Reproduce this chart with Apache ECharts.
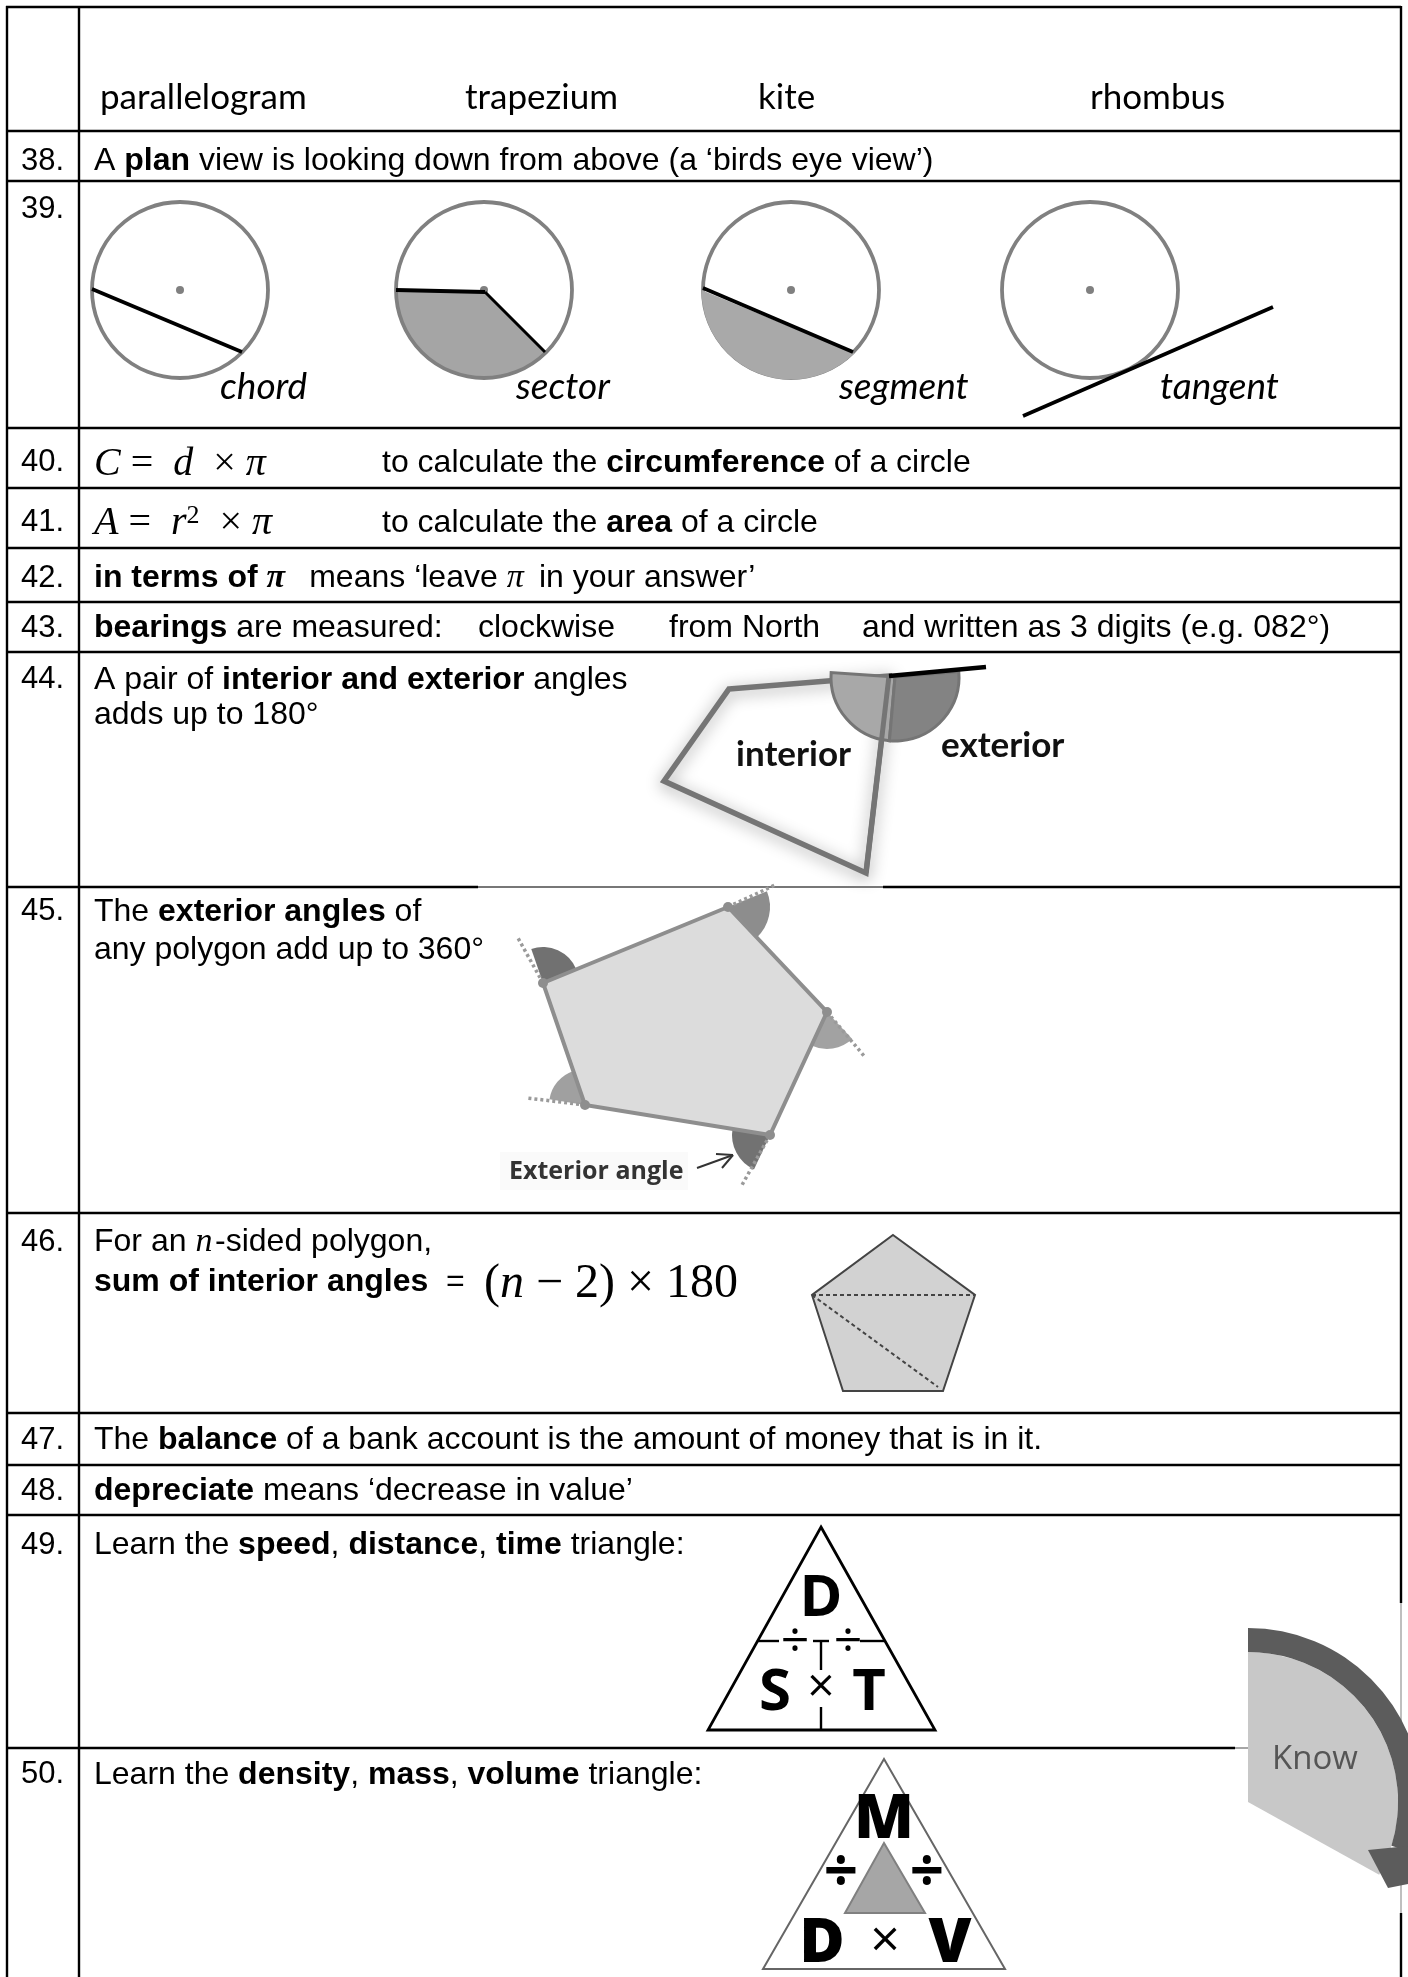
<!DOCTYPE html>
<html lang="en">
  <head>
    <meta charset="UTF-8" />
    <title>Knowledge sheet 38-50</title>
    <script src="https://cdn.jsdelivr.net/npm/echarts@6/dist/echarts.min.js"></script>
    <style>
      html, body { margin: 0; padding: 0; background: #fff; }
      #main { width: 1408px; height: 1977px; }
    </style>
  </head>
  <body>
    <div id="main"></div>
    <script>
      // ---- content of the sheet ----
      var rowNumbers = ['38.', '39.', '40.', '41.', '42.', '43.', '44.', '45.', '46.', '47.', '48.', '49.', '50.'];
      var rowNumberY = [161, 209, 462, 522, 578, 628, 679, 911, 1242, 1440, 1491, 1545, 1774];

      var headerWords = ['parallelogram', 'trapezium', 'kite', 'rhombus'];
      var headerX = [100, 465, 758, 1090];

      var circleLabels = ['chord', 'sector', 'segment', 'tangent'];
      var circleLabelX = [220, 516, 839, 1160];
      var circleCentreX = [180, 484, 791, 1090];

      var bodyLines = [
        'A {b|plan} view is looking down from above (a ‘birds eye view’)',
        'to calculate the {b|circumference} of a circle',
        'to calculate the {b|area} of a circle',
        '{b|in terms of }{bi|π}\u2009  means ‘leave {mi|π}\u2009 in your answer’',
        '{b|bearings} are measured:',
        'clockwise',
        'from North',
        'and written as 3 digits (e.g. 082°)',
        'A pair of {b|interior and exterior} angles',
        'adds up to 180°',
        'The {b|exterior angles} of',
        'any polygon add up to 360°',
        'For an {mi|n}\u200a-sided polygon,',
        '{b|sum of interior angles}  =',
        'The {b|balance} of a bank account is the amount of money that is in it.',
        '{b|depreciate} means ‘decrease in value’',
        'Learn the {b|speed}, {b|distance}, {b|time} triangle:',
        'Learn the {b|density}, {b|mass}, {b|volume} triangle:'
      ];
      var bodyX = [94, 382, 382, 94, 94, 478, 669, 862, 94, 94, 94, 94, 94, 94, 94, 94, 94, 94];
      var bodyY = [161, 463, 523, 578, 628, 628, 628, 628, 680, 715, 912, 950, 1242, 1282, 1440, 1491, 1545, 1775];

      var formulas = ['{i|C} =  {i|d}  × {i|π}', '{i|A} =  {i|r}{s|2}  × {i|π}', '({i|n} − 2) × 180'];
      var formulaX = [94, 94, 484];
      var formulaY = [464, 523, 1284];
      var formulaSize = [40, 40, 48];

      // table rules: [y, x from, x to]
      var tableRows = [
        [7, 6, 1401], [131, 6, 1401], [181, 6, 1401], [428, 6, 1401], [488, 6, 1401],
        [548, 6, 1401], [602, 6, 1401], [652, 6, 1401], [887, 6, 478], [887, 883, 1401],
        [1213, 6, 1401], [1413, 6, 1401], [1465, 6, 1401], [1515, 6, 1401], [1748, 6, 1235]
      ];
      // table rules: [x, y from, y to]
      var tableCols = [
        [7, 6, 1977], [79, 6, 1977], [1401, 6, 1603], [1401, 1913, 1977]
      ];

      var chordLine = [[92, 289], [242, 352]];
      var sectorLine = [[396, 290], [485, 292], [545, 352]];
      var segmentLine = [[703, 288], [853, 352]];
      var tangentLine = [[1273, 307], [1023, 416]];

      var anglePolygon = [[729, 689], [889, 676], [866, 873], [664, 781]];
      var pentagonA = [[543, 983], [728, 907], [827, 1012], [770, 1135], [585, 1105]];
      // end of the dotted line leaving each corner of pentagonA
      var pentagonADots = [[518, 938], [775, 885], [865, 1057], [742, 1185], [527, 1098]];
      var pentagonB = [[893, 1235], [975, 1295], [943, 1391], [843, 1391], [812, 1295]];

      var triangleSDT = [[821, 1527], [935, 1730], [708, 1730]];
      var triangleDMV = [[884, 1759], [1005, 1969], [763, 1969]];
      var triangleInner = [[884, 1843], [925, 1913], [845, 1913]];

      // ---- helpers ----
      var SANS = '"Liberation Sans", Arial, sans-serif';
      var SERIF = '"Liberation Serif", serif';
      var CAL = 'Lato, "Open Sans", sans-serif';
      var OPEN = '"Open Sans", sans-serif';
      var BODY = 32;

      function rad(a) { return a * Math.PI / 180; }

      function mapped(api, pts) {
        return pts.map(function (p) { return api.coord(p); });
      }

      function arcPoints(c, r, a0, a1) {
        var out = [];
        for (var a = a0; a <= a1; a += 3) {
          out.push([c[0] + r * Math.cos(rad(a)), c[1] + r * Math.sin(rad(a))]);
        }
        return out;
      }

      // one custom series per group of marks, all on the hidden page axes
      function layer(name, items, draw) {
        return {
          type: 'custom',
          name: name,
          coordinateSystem: 'cartesian2d',
          clip: false,
          silent: true,
          animation: false,
          data: items.map(function (d, i) { return [i, i]; }),
          renderItem: function (params, api) {
            return draw(items[params.dataIndex], api, params.dataIndex);
          }
        };
      }

      function lineEl(api, a, b, color, width, dash) {
        var p = api.coord(a), q = api.coord(b);
        return {
          type: 'line',
          shape: { x1: p[0], y1: p[1], x2: q[0], y2: q[1] },
          style: { stroke: color, lineWidth: width, lineDash: dash || null, lineCap: 'butt' }
        };
      }

      function polyEl(api, pts, fill, stroke, width) {
        return {
          type: 'polygon',
          shape: { points: mapped(api, pts) },
          style: { fill: fill, stroke: stroke, lineWidth: width, lineJoin: 'miter' }
        };
      }

      function sectorEl(api, c, r, a0, a1, fill, stroke, width, r0) {
        var p = api.coord(c);
        return {
          type: 'sector',
          shape: { cx: p[0], cy: p[1], r: r, r0: r0 || 0, startAngle: rad(a0), endAngle: rad(a1), clockwise: true },
          style: { fill: fill, stroke: stroke || null, lineWidth: width || 0 }
        };
      }

      function textEl(api, p, text, opts) {
        var c = api.coord(p);
        return {
          type: 'text',
          x: c[0],
          y: c[1],
          style: Object.assign({
            text: text,
            fill: '#000',
            align: 'left',
            verticalAlign: 'middle',
            fontFamily: SANS,
            fontSize: BODY
          }, opts || {})
        };
      }

      var bodyRich = {
        b: { fontFamily: SANS, fontSize: BODY, fontWeight: 'bold', fill: '#000' },
        bi: { fontFamily: SERIF, fontSize: BODY + 2, fontWeight: 'bold', fontStyle: 'italic', fill: '#000' },
        mi: { fontFamily: SERIF, fontSize: BODY + 2, fontStyle: 'italic', fill: '#000' }
      };

      function formulaRich(size) {
        return {
          i: { fontFamily: SERIF, fontSize: size, fontStyle: 'italic', fill: '#000' },
          s: { fontFamily: SERIF, fontSize: size * 0.65, fill: '#000', verticalAlign: 'top' }
        };
      }

      // ---- drawing groups ----
      var series = [];

      series.push(layer('rows', tableRows, function (r, api) {
        return lineEl(api, [r[1], r[0]], [r[2], r[0]], '#000', 2.4);
      }));
      series.push(layer('columns', tableCols, function (c, api) {
        return lineEl(api, [c[0], c[1]], [c[0], c[2]], '#000', 2.4);
      }));
      series.push(layer('overlay rules', [
        [[478, 887], [883, 887], '#777', 2],
        [[1401, 1603], [1401, 1913], '#aaa', 1.5],
        [[1235, 1748], [1248, 1748], '#888', 1.5]
      ], function (d, api) {
        return lineEl(api, d[0], d[1], d[2], d[3]);
      }));

      // 39: circle shading, then outlines, dots and lines
      series.push(layer('q39 sector', [0], function (d, api) {
        return sectorEl(api, [circleCentreX[1], 290], 88, 45, 180, '#a5a5a5');
      }));
      series.push(layer('q39 circles', circleCentreX, function (x, api) {
        var p = api.coord([x, 290]);
        return {
          type: 'group',
          children: [
            { type: 'circle', shape: { cx: p[0], cy: p[1], r: 88 }, style: { fill: 'none', stroke: '#808080', lineWidth: 3.8 } },
            { type: 'circle', shape: { cx: p[0], cy: p[1], r: 4 }, style: { fill: '#808080' } }
          ]
        };
      }));
      series.push(layer('q39 segment', [0], function (d, api) {
        return polyEl(api, arcPoints([circleCentreX[2], 290], 89.5, 45, 181), '#a9a9a9', null, 0);
      }));
      series.push(layer('q39 lines', [
        [chordLine[0], chordLine[1], 3.6],
        [sectorLine[0], sectorLine[1], 4.2],
        [sectorLine[1], sectorLine[2], 3],
        [segmentLine[0], segmentLine[1], 3.6],
        [tangentLine[0], tangentLine[1], 3.6]
      ], function (d, api) {
        return lineEl(api, d[0], d[1], '#000', d[2]);
      }));

      // 44: interior and exterior angle
      series.push(layer('q44 polygon', [0], function (d, api) {
        return {
          type: 'polygon',
          shape: { points: mapped(api, anglePolygon) },
          style: { fill: 'none', stroke: '#757575', lineWidth: 5.5, shadowBlur: 16, shadowColor: '#999', shadowOffsetY: 3 }
        };
      }));
      series.push(layer('q44 angles', [
        [95, 184, '#a8a8a8'],
        [-5, 95, '#838383']
      ], function (d, api) {
        return sectorEl(api, [895, 677], 64, d[0], d[1], d[2], '#757575', 3);
      }));
      series.push(layer('q44 edges', [
        [[889, 676], [866, 873], '#757575', 5],
        [[889, 676], [986, 667], '#000', 4.4]
      ], function (d, api) {
        return lineEl(api, d[0], d[1], d[2], d[3]);
      }));

      // 45: exterior angles of a pentagon
      series.push(layer('q45 angles', [
        [0, -109, -22, 36, '#717171'],
        [1, -22, 47, 42, '#8d8d8d'],
        [2, 47, 115, 37, '#a2a2a2'],
        [3, 115, 189, 38, '#727272'],
        [4, 189, 251, 36, '#a0a0a0']
      ], function (d, api) {
        return sectorEl(api, pentagonA[d[0]], d[3], d[1], d[2], d[4]);
      }));
      series.push(layer('q45 dots', pentagonADots, function (p, api, i) {
        return lineEl(api, pentagonA[i], p, '#9a9a9a', 3.5, [3, 3]);
      }));
      series.push(layer('q45 pentagon', [pentagonA], function (pts, api) {
        return polyEl(api, pts, '#dcdcdc', '#8e8e8e', 4);
      }));
      series.push(layer('q45 corners', pentagonA, function (p, api) {
        var c = api.coord(p);
        return { type: 'circle', shape: { cx: c[0], cy: c[1], r: 5 }, style: { fill: '#8e8e8e' } };
      }));
      series.push(layer('q45 caption box', [0], function (d, api) {
        var p = api.coord([500, 1152]);
        return { type: 'rect', shape: { x: p[0], y: p[1], width: 188, height: 38 }, style: { fill: '#fafafa' } };
      }));
      series.push(layer('q45 arrow', [
        [[697, 1168], [733, 1155]],
        [[733, 1155], [716, 1154]],
        [[733, 1155], [722, 1168]]
      ], function (d, api) {
        return lineEl(api, d[0], d[1], '#333', 2);
      }));

      // 46: triangulated pentagon
      series.push(layer('q46 pentagon', [pentagonB], function (pts, api) {
        return polyEl(api, pts, '#d2d2d2', '#444', 2);
      }));
      series.push(layer('q46 diagonals', [
        [pentagonB[4], pentagonB[1]],
        [pentagonB[4], [938, 1387]]
      ], function (d, api) {
        return lineEl(api, d[0], d[1], '#444', 2, [4, 3]);
      }));

      // 49, 50: formula triangles
      series.push(layer('q49 triangle', [triangleSDT], function (pts, api) {
        return polyEl(api, pts, '#fff', '#000', 2.8);
      }));
      series.push(layer('q49 dividers', [
        [[758, 1641], [779, 1641]],
        [[813, 1641], [829, 1641]],
        [[860, 1641], [884, 1641]],
        [[821, 1641], [821, 1670]],
        [[821, 1707], [821, 1730]]
      ], function (d, api) {
        return lineEl(api, d[0], d[1], '#000', 2.4);
      }));
      series.push(layer('q50 triangle', [triangleDMV], function (pts, api) {
        return polyEl(api, pts, '#fff', '#666', 2);
      }));
      series.push(layer('q50 inner', [triangleInner], function (pts, api) {
        return polyEl(api, pts, '#a6a6a6', '#808080', 2);
      }));

      // Know arrow
      series.push(layer('know panel', [0], function (d, api) {
        return sectorEl(api, [1248, 1802], 150, -90, 29, '#c8c8c8');
      }));
      series.push(layer('know band', [0], function (d, api) {
        return sectorEl(api, [1248, 1802], 174, -90, 17, '#5c5c5c', null, 0, 150);
      }));
      series.push(layer('know head', [[[1368, 1850], [1388, 1888], [1408, 1884], [1408, 1846]]], function (pts, api) {
        return polyEl(api, pts, '#5c5c5c', null, 0);
      }));

      // ---- text ----
      series.push(layer('row numbers', rowNumbers, function (t, api, i) {
        return textEl(api, [21, rowNumberY[i]], t, { fontSize: 31 });
      }));
      series.push(layer('header', headerWords, function (t, api, i) {
        return textEl(api, [headerX[i], 98], t, { fontFamily: CAL, fontSize: 35 });
      }));
      series.push(layer('circle labels', circleLabels, function (t, api, i) {
        return textEl(api, [circleLabelX[i], 387], t, { fontFamily: CAL, fontSize: 37, fontStyle: 'italic' });
      }));
      series.push(layer('body', bodyLines, function (t, api, i) {
        return textEl(api, [bodyX[i], bodyY[i]], t, { rich: bodyRich });
      }));
      series.push(layer('formulas', formulas, function (t, api, i) {
        return textEl(api, [formulaX[i], formulaY[i]], t, {
          fontFamily: SERIF,
          fontSize: formulaSize[i],
          rich: formulaRich(formulaSize[i])
        });
      }));
      series.push(layer('picture labels', [
        ['interior', 736, 755, 35, 'bold', CAL, '#111', 'left'],
        ['exterior', 941, 746, 35, 'bold', CAL, '#111', 'left'],
        ['Exterior angle', 509, 1172, 25, 'bold', OPEN, '#333', 'left'],
        ['D', 821, 1599, 58, 'bold', OPEN, '#000', 'center'],
        ['S', 775, 1693, 58, 'bold', OPEN, '#000', 'center'],
        ['T', 869, 1693, 58, 'bold', OPEN, '#000', 'center'],
        ['×', 821, 1688, 48, 'normal', OPEN, '#000', 'center'],
        ['÷', 795, 1643, 50, 'normal', OPEN, '#000', 'center'],
        ['÷', 848, 1643, 50, 'normal', OPEN, '#000', 'center'],
        ['M', 884, 1820, 62, 800, OPEN, '#000', 'center'],
        ['÷', 841, 1875, 60, 'bold', OPEN, '#000', 'center'],
        ['÷', 927, 1875, 60, 'bold', OPEN, '#000', 'center'],
        ['D', 822, 1944, 62, 800, OPEN, '#000', 'center'],
        ['×', 885, 1942, 52, 'normal', OPEN, '#000', 'center'],
        ['V', 950, 1944, 62, 800, OPEN, '#000', 'center'],
        ['Know', 1315, 1760, 33, 'normal', OPEN, '#555', 'center']
      ], function (d, api) {
        return textEl(api, [d[1], d[2]], d[0], {
          fontSize: d[3],
          fontWeight: d[4],
          fontFamily: d[5],
          fill: d[6],
          align: d[7]
        });
      }));

      var mCharts = echarts.init(document.getElementById('main'));
      mCharts.setOption({
        backgroundColor: '#fff',
        animation: false,
        grid: { left: 0, right: 0, top: 0, bottom: 0 },
        xAxis: { type: 'value', min: 0, max: 1408, show: false },
        yAxis: { type: 'value', min: 0, max: 1977, inverse: true, show: false },
        series: series
      });
    </script>
  </body>
</html>
